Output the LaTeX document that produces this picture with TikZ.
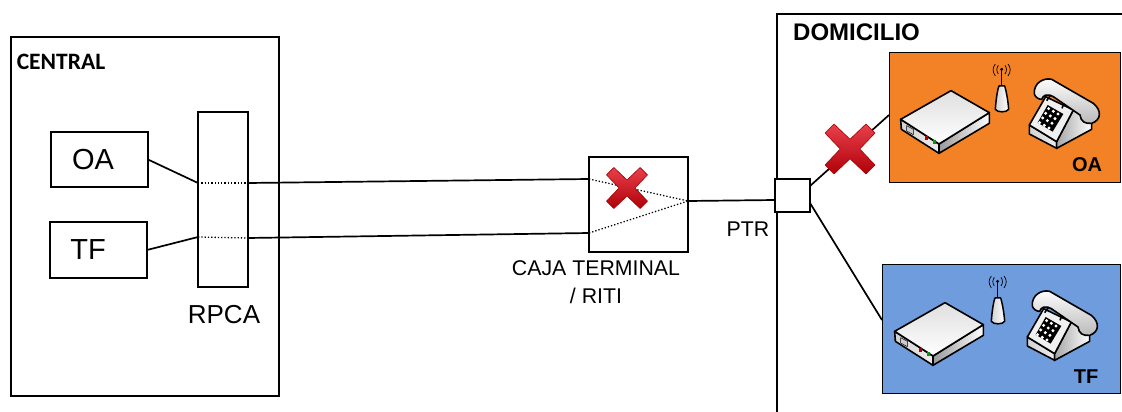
\documentclass[tikz,border=0pt]{standalone}
\usepackage{fontspec}
\setmainfont{Liberation Sans}
\newfontfamily\carlito{Carlito}
\definecolor{naranja}{HTML}{F28225}
\definecolor{azul}{HTML}{6F9CDC}
\definecolor{rosa}{HTML}{E8404C}
\definecolor{granate}{HTML}{B00008}
\tikzset{
  caja/.style={draw, line width=1.5pt, fill=white, anchor=north west, inner sep=0pt, outer sep=0pt},
  panel/.style={draw, line width=1pt, anchor=north west, outer sep=0pt},
  linea/.style={line width=1.7pt},
  puntos/.style={line width=1.3pt, dotted},
  texto/.style={inner sep=0pt, font=\fontsize{21.3}{25}\selectfont, align=center},
  grande/.style={inner sep=0pt, font=\fontsize{29}{33}\selectfont},
  negrita/.style={inner sep=0pt, font=\bfseries\fontsize{20}{24}\selectfont},
  % Iconos, dibujados en tercios de pixel
  modem/.pic={
    \begin{scope}[x=0.3333pt, y=-0.3333pt, line width=1.6pt, line join=round]
      \shade[left color=gray!35, right color=gray!15, draw=black] (62,238) -- (177,312) -- (177,340) -- (64,268) -- cycle;
      \shade[left color=gray!80, right color=white, draw=black] (177,312) -- (328,218) -- (328,250) -- (177,340) -- cycle;
      \shade[top color=gray!25, bottom color=white, draw=black] (62,238) -- (213,152) -- (328,218) -- (177,312) -- cycle;
      \draw[line width=0.5pt, fill=gray!40] (80,257) -- (100,268) -- (100,284) -- (80,273) -- cycle;
      \fill[red!70!black] (135,288) rectangle (144,300);
      \fill[green!60!black] (158,300) rectangle (167,312);
    \end{scope}
  },
  antena/.pic={
    \begin{scope}[x=0.3333pt, y=-0.3333pt, line join=round]
      \draw[line width=1.6pt] (365,138) -- (365,88);
      \shade[left color=gray!35, right color=white, draw=black, line width=1.5pt] (346,208) .. controls (348,180) and (352,150) .. (357,138) -- (374,138) .. controls (378,150) and (384,180) .. (386,208) .. controls (380,218) and (352,218) .. (346,208) -- cycle;
      \fill (365,88) circle (5);
      \draw[line width=0.7pt] (355,76) .. controls (349,86) and (349,92) .. (355,102);
      \draw[line width=0.7pt] (346,72) .. controls (337,84) and (337,94) .. (346,108);
      \draw[line width=0.7pt] (375,76) .. controls (381,86) and (381,92) .. (375,102);
      \draw[line width=0.7pt] (384,72) .. controls (393,84) and (393,94) .. (384,108);
    \end{scope}
  },
  telefono/.pic={
    \begin{scope}[x=0.3333pt, y=-0.3333pt, line width=1.6pt, line join=round]
      % Base
      \shade[left color=gray!35, right color=gray!15, draw=black] (448,255) -- (530,305) -- (530,325) -- (448,282) -- cycle;
      \shade[left color=gray!70, right color=white, draw=black] (530,305) -- (580,210) -- (635,248) -- (635,268) -- (530,325) -- cycle;
      \draw[fill=gray!12] (497,170) -- (448,255) -- (530,305) -- (580,210) -- cycle;
      % Auricular
      \shade[top color=white, bottom color=gray!55, draw=black] (463,162) .. controls (460,130) and (490,112) .. (515,118) -- (640,190) .. controls (665,210) and (665,240) .. (635,250) .. controls (615,252) and (603,245) .. (600,225) -- (520,170) .. controls (500,160) and (490,165) .. (485,178) .. controls (475,178) and (466,172) .. (463,162) -- cycle;
      \draw (512,165) -- (500,182) (552,190) -- (546,205);
      % Teclado
      \fill (503,195) -- (550,222) -- (518,275) -- (473,248) -- cycle;
      \foreach \i in {0,1,2} {
        \foreach \j in {0,1,2,3} {
          \fill[white] ({506+14*\i-9*\j},{206+8*\i+14*\j}) circle (5);
        }
      }
    \end{scope}
  },
  aspa/.pic={
    \begin{scope}[x=#1pt, y=#1pt, line join=round]
      \shade[top color=rosa, middle color=red, bottom color=granate, draw=red!65!black, line width=0.6pt] (0,-0.39) -- (0.64,-1) -- (1,-0.64) -- (0.39,0) -- (1,0.64) -- (0.64,1) -- (0,0.39) -- (-0.64,1) -- (-1,0.64) -- (-0.39,0) -- (-1,-0.64) -- (-0.64,-1) -- cycle;
    \end{scope}
  },
}
\begin{document}
\begin{tikzpicture}[x=1pt, y=-1pt]
    \useasboundingbox (0,0) rectangle (1122,412);
    % Central
    \node[caja, minimum width=268pt, minimum height=359pt] (central) at (11,37) {};
    \node[inner sep=0pt, font=\carlito\bfseries\fontsize{23.5}{27}\selectfont] (centralT) at (61,61.5) {CENTRAL};
    \node[caja, minimum width=97pt, minimum height=55pt] (OA) at (51,132) {};
    \node[grande] (OAT) at (OA.center) [xshift=-6.5pt] {OA};
    \node[caja, minimum width=97pt, minimum height=56pt] (TF) at (50,222) {};
    \node[grande] (TFT) at (TF.center) [xshift=-10.5pt] {TF};
    \node[caja, minimum width=50pt, minimum height=175pt] (RPCA) at (198,112) {};
    \node[inner sep=0pt, font=\fontsize{26}{30}\selectfont] (RPCAT) at (224,315) {RPCA};
    \coordinate (rpcaA) at (198,183);
    \coordinate (rpcaB) at (248,183);
    \coordinate (rpcaC) at (198,237);
    \coordinate (rpcaD) at (248,238);
    % Domicilio
    \draw[line width=1.5pt] (777,412) -- (777,14) -- (1122,14);
    \node[anchor=north west, inner sep=0pt, font=\bfseries\fontsize{24}{28}\selectfont] (domicilioT) at (793,24) {DOMICILIO};
    \node[panel, fill=naranja, minimum width=231pt, minimum height=129pt] (naranjaB) at (889,53) {};
    \node[panel, fill=azul, minimum width=238pt, minimum height=129pt] (azulB) at (882,264) {};
    \node[negrita] (naranjaT) at (1087,165) {OA};
    \node[negrita] (azulT) at (1086,377) {TF};
    % Caja terminal
    \node[caja, minimum width=99pt, minimum height=95pt] (terminal) at (589,157) {};
    \node[texto, anchor=north] (terminalT) at (596,260) {CAJA TERMINAL\\[3.5pt]/ RITI};
    \coordinate (terminalA) at (589,179);
    \coordinate (terminalB) at (589,233);
    \coordinate (terminalC) at (688,201);
    % PTR
    \node[caja, minimum width=35pt, minimum height=33pt] (PTR) at (775,179) {};
    \node[texto] (PTRT) at (748,229) {PTR};
    \coordinate (ptrA) at (810,186);
    \coordinate (ptrB) at (810,203);
    \coordinate (ptrC) at (775,200);
    \coordinate (naranjaC) at (889,115);
    \coordinate (azulC) at (882,320);
    % Conexiones
    \draw[linea] (OA.east) -- (rpcaA);
    \draw[linea] (TF.east) -- (rpcaC);
    \draw[puntos] (rpcaA) -- (rpcaB);
    \draw[puntos] (rpcaC) -- (rpcaD);
    \draw[linea] (rpcaB) -- (terminalA);
    \draw[linea] (rpcaD) -- (terminalB);
    \draw[puntos] (terminalA) -- (terminalC);
    \draw[puntos] (terminalB) -- (terminalC);
    \draw[linea] (terminalC) -- (ptrC);
    \draw[linea] (ptrA) -- (naranjaC);
    \draw[linea] (ptrB) -- (azulC);
    % Equipos
    \pic at (880,40) {modem};
    \pic at (880,40) {antena};
    \pic at (880,40) {telefono};
    \pic at (874,252) {modem};
    \pic at (876,252) {antena};
    \pic at (878,252) {telefono};
    % Aspas
    \pic at (627,188) {aspa=20.5};
    \pic at (850,149) {aspa=25};
\end{tikzpicture}
\end{document}
